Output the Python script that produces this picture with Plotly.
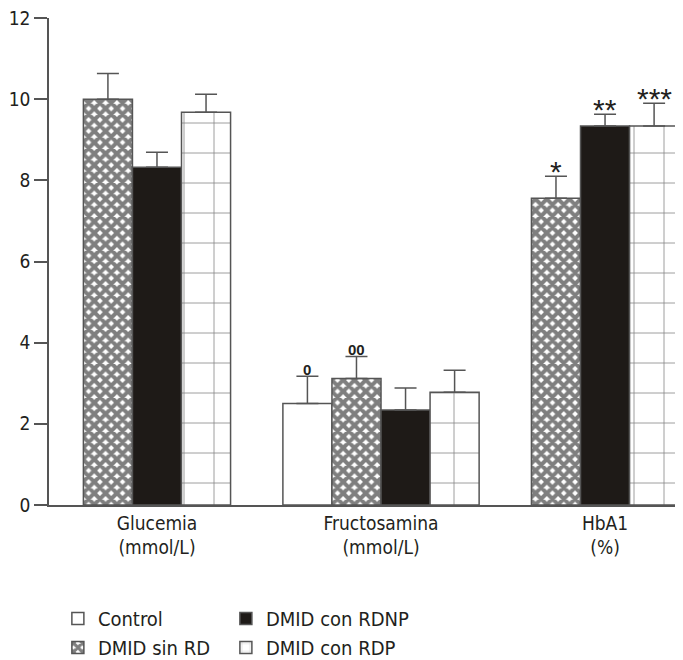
import plotly.graph_objects as go

groups = ["Glucemia<br>(mmol/L)", "Fructosamina<br>(mmol/L)", "HbA1<br>(%)"]
series = ["Control", "DMID sin RD", "DMID con RDNP", "DMID con RDP"]

control = [None, 2.50, None]
sin_rd = [10.0, 3.12, 7.56]
rdnp = [8.32, 2.34, 9.34]
rdp = [9.68, 2.78, 9.34]

control_err = [None, 0.67, None]
sin_rd_err = [0.63, 0.54, 0.54]
rdnp_err = [0.37, 0.54, 0.29]
rdp_err = [0.44, 0.54, 0.56]

control_sig = ["", "0", ""]
sin_rd_sig = ["", "00", "*"]
rdnp_sig = ["", "", "**"]
rdp_sig = ["", "", "***"]

values = [control, sin_rd, rdnp, rdp]
errors = [control_err, sin_rd_err, rdnp_err, rdp_err]
sigs = [control_sig, sin_rd_sig, rdnp_sig, rdp_sig]

FONT = "DejaVu Sans Condensed, Liberation Sans, sans-serif"
TXT = "#231f20"
EDGE = "#555555"
BW = 0.219

styles = [
    dict(color="white", pattern=dict(shape="")),
    dict(color="white", pattern=dict(shape="x", fgcolor="black", bgcolor="white", size=8, solidity=0.75)),
    dict(color="#1e1a17", pattern=dict(shape="")),
    dict(color="white", pattern=dict(shape="+", fgcolor="black", bgcolor="white", size=30, solidity=0.05)),
]
legends = ["legend", "legend", "legend2", "legend2"]

# positions: bars present in each group are laid side by side around the group centre
positions = [[None] * len(groups) for _ in series]
for g in range(len(groups)):
    present = [s for s in range(len(series)) if values[s][g] is not None]
    n = len(present)
    for k, s in enumerate(present):
        positions[s][g] = g + (k - (n - 1) / 2) * BW

fig = go.Figure()
annotations = []
for s, name in enumerate(series):
    idx = [g for g in range(len(groups)) if values[s][g] is not None]
    xs = [positions[s][g] for g in idx]
    ys = [values[s][g] for g in idx]
    es = [errors[s][g] for g in idx]
    fig.add_trace(go.Bar(
        x=xs, y=ys, width=BW, name=name, legend=legends[s],
        marker=dict(color=styles[s]["color"], pattern=styles[s]["pattern"],
                    line=dict(color=EDGE, width=1.5)),
        error_y=dict(type="data", array=es, symmetric=False, arrayminus=[0] * len(es),
                     color=EDGE, thickness=1.5, width=11),
    ))
    for g in idx:
        if sigs[s][g]:
            star = "*" in sigs[s][g]
            annotations.append(dict(
                x=positions[s][g], y=values[s][g] + errors[s][g], text=sigs[s][g],
                showarrow=False, yanchor="bottom", xanchor="center",
                yshift=-14 if star else -4,
                font=dict(family="Liberation Sans, sans-serif", size=30 if star else 15,
                          color=TXT, weight=400 if star else 700),
            ))

# the page body adds an 8 px offset, so the figure is 8 px smaller each way
fig.update_layout(
    width=675, height=652,
    margin=dict(l=41, r=0, t=10, b=155, autoexpand=False),
    plot_bgcolor="white", paper_bgcolor="white",
    barmode="overlay",
    font=dict(family=FONT, size=19, color=TXT),
    xaxis=dict(range=[-0.482, 2.348], tickvals=list(range(len(groups))), ticktext=groups,
               showline=True, linecolor=EDGE, linewidth=1.5, ticks="", showgrid=False,
               zeroline=False, tickfont=dict(size=19, color=TXT)),
    yaxis=dict(range=[0, 12], tickvals=list(range(0, 13, 2)), showline=True, linecolor=EDGE,
               linewidth=1.5, ticks="outside", ticklen=13, tickwidth=1.5, tickcolor=EDGE,
               showgrid=False, zeroline=False, ticklabeloverflow="allow",
               tickfont=dict(size=19, color=TXT)),
    legend=dict(x=0.014, xref="paper", y=0.0936, yref="container", xanchor="left", yanchor="top",
                orientation="v", font=dict(size=20, color=TXT), bgcolor="rgba(0,0,0,0)",
                itemwidth=30, tracegroupgap=0),
    legend2=dict(x=0.279, xref="paper", y=0.0936, yref="container", xanchor="left", yanchor="top",
                 orientation="v", font=dict(size=20, color=TXT), bgcolor="rgba(0,0,0,0)",
                 itemwidth=30, tracegroupgap=0),
    annotations=annotations,
)

fig.write_html("out.html")
